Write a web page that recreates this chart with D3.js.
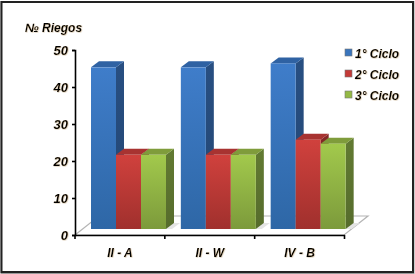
<!DOCTYPE html>
<html><head><meta charset="utf-8">
<script src="https://cdn.jsdelivr.net/npm/d3@7"></script>
<style>html,body{margin:0;padding:0;background:#fff}svg{display:block}
text{font-family:"Liberation Sans",Arial,sans-serif;font-style:italic;font-weight:bold;fill:#000}</style>
</head><body><svg id="c" width="415" height="274"></svg>
<script>
const categories=["II - A","II - W","IV - B"];
const seriesNames=["1° Ciclo","2° Ciclo","3° Ciclo"];
const ciclo1=[44.9,44.9,46];
const ciclo2=[20.6,20.6,24.8];
const ciclo3=[20.6,20.6,23.7];
const yTicks=[0,10,20,30,40,50];
const palettes=[
 {top:"#2f62a3",side:"#284f82",a:"#3f7dca",b:"#2e67a6",k:"#3a75bd"},
 {top:"#a83331",side:"#842826",a:"#d0413d",b:"#a0302d",k:"#c43a37"},
 {top:"#7f9c3b",side:"#627a32",a:"#a2c94c",b:"#7c9a3b",k:"#94b945"}];
const svg=d3.select("#c");
const defs=svg.append("defs");
palettes.forEach((p,i)=>{
 const g=defs.append("linearGradient").attr("id","g"+i).attr("x1",0).attr("x2",0).attr("y1",0).attr("y2",1);
 g.append("stop").attr("offset",0).attr("stop-color",p.a);
 g.append("stop").attr("offset",1).attr("stop-color",p.b);
 const s=defs.append("linearGradient").attr("id","s"+i).attr("x1",0).attr("x2",0).attr("y1",0).attr("y2",1);
 s.append("stop").attr("offset",0).attr("stop-color",p.side);
 s.append("stop").attr("offset",1).attr("stop-color",d3.color(p.side).darker(0.35));
});
const shadow=defs.append("filter").attr("id","ts").attr("x","-10%").attr("y","-10%").attr("width","120%").attr("height","130%");
shadow.append("feDropShadow").attr("dx",0.5).attr("dy",0.5).attr("stdDeviation",0.4).attr("flood-color","#b09060").attr("flood-opacity",0.6);

// frame
svg.append("rect").attr("x",1).attr("y",1.5).attr("width",413).attr("height",272).attr("fill","none").attr("stroke","#999").attr("stroke-width",1);
svg.append("rect").attr("x",1.5).attr("y",2).attr("width",411.5).attr("height",270).attr("fill","#fff").attr("stroke","#222").attr("stroke-width",2);

const y=d3.scaleLinear().domain([0,50]).range([235,50]);
const barY=d3.scaleLinear().domain([0,50]).range([229,49]);
const x0=d3.scaleBand().domain(categories).range([75,344.5]);
const dx=8,dy=6;
const barW=25;

// floor
const floor=svg.append("g");
const fx0=75,fx1=344,fy0=235,fy1=216,off=24;
floor.append("path").attr("d",d3.line()([[fx0,fy0],[fx1,fy0],[fx1+off,fy1],[fx0+off,fy1],[fx0,fy0]]))
 .attr("fill","#fff").attr("stroke","#b4b4b4").attr("stroke-width",1.2);

const series=[ciclo1,ciclo2,ciclo3];
const barX=(c,s)=>x0(c)+16+s*barW;
categories.forEach((c,ci)=>{
 series.forEach((vals,si)=>{
  const p=palettes[si],xL=barX(c,si),xR=xL+barW,t=barY(vals[ci]),b=barY(0);
  const g=svg.append("g");
  // soft floor shadow
  g.append("path").attr("d",d3.line()([[xR,b],[xR+dx,b-dy],[xR+dx+6,b-dy],[xR+6,b]])+"Z").attr("fill","#e4e4e4");
  g.append("path").attr("d",d3.line()([[xR,t],[xR+dx,t-dy],[xR+dx,b-dy],[xR,b]])+"Z").attr("fill",`url(#s${si})`);
  g.append("path").attr("d",d3.line()([[xL,t],[xL+dx,t-dy],[xR+dx,t-dy],[xR,t]])+"Z").attr("fill",p.top);
  g.append("rect").attr("x",xL).attr("y",t).attr("width",barW).attr("height",b-t).attr("fill",`url(#g${si})`);
 });
});

// axes
const yAxis=d3.axisLeft(y).tickValues(yTicks).tickSize(3).tickPadding(4);
const ga=svg.append("g").attr("transform","translate(75,0)").call(yAxis);
ga.select(".domain").attr("stroke","#000").attr("stroke-width",1.6);
ga.selectAll(".tick line").attr("stroke","#000").attr("stroke-width",1.6);
ga.selectAll("text").attr("font-size",13).attr("filter","url(#ts)").style("font-family",'"Liberation Sans"');
const xAxis=d3.axisBottom(x0).tickSize(0).tickPadding(13);
const gb=svg.append("g").attr("transform","translate(0,235)").call(xAxis);
gb.select(".domain").attr("stroke","#000").attr("stroke-width",1.6);
gb.selectAll("text").attr("font-size",12).attr("filter","url(#ts)").style("font-family",'"Liberation Sans"');
[0,1,2,3].forEach(i=>{
 const px=x0.range()[0]+i*x0.step();
 svg.append("line").attr("x1",px).attr("x2",px).attr("y1",235).attr("y2",239).attr("stroke","#000").attr("stroke-width",1.6);
});

svg.append("text").attr("x",25).attr("y",32).attr("font-size",12).attr("filter","url(#ts)").text("№ Riegos");

// legend
const legY=d3.scalePoint().domain(seriesNames).range([53,95]);
seriesNames.forEach((n,i)=>{
 const yy=legY(n);
 svg.append("rect").attr("x",345).attr("y",yy-4).attr("width",7).attr("height",7).attr("fill",palettes[i].k).attr("stroke","#777").attr("stroke-width",0.6);
 svg.append("text").attr("x",355).attr("y",yy+4.5).attr("font-size",12).attr("filter","url(#ts)").text(n);
});
</script></body></html>
